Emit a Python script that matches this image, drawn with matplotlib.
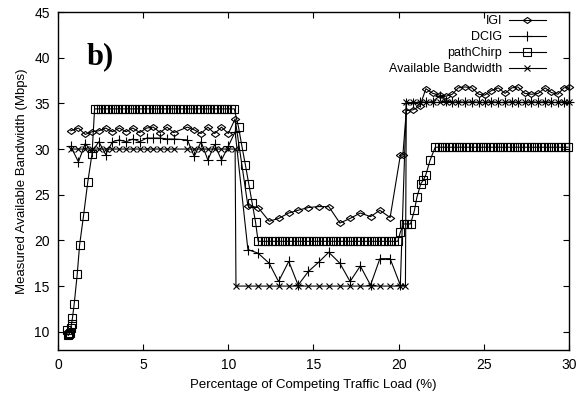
"""Measured available bandwidth vs. competing traffic load (panel b)."""

import matplotlib

matplotlib.use("Agg")
import matplotlib.pyplot as plt

plt.rcParams["font.family"] = ["Liberation Sans", "DejaVu Sans"]

# --- shared load points (%) for IGI / DCIG / available bandwidth ---------
load_phase1 = [0.75, 1.2, 1.6, 2.0, 2.4, 2.8, 3.2, 3.6, 4.0, 4.4, 4.8, 5.2,
               5.6, 6.0, 6.4, 6.8, 7.6, 8.0, 8.4, 8.8, 9.2, 9.6, 10.0, 10.4]
load_phase2 = [11.15, 11.75, 12.4, 12.95, 13.55, 14.1, 14.7, 15.3, 15.9,
               16.55, 17.15, 17.75, 18.35, 18.9, 19.5, 20.1]
load_phase3 = [20.45, 20.85, 21.25, 21.6, 22.0, 22.4, 22.8, 23.15, 23.5,
               23.9, 24.3, 24.7, 25.05, 25.45, 25.85, 26.25, 26.65, 27.0,
               27.4, 27.8, 28.2, 28.6, 28.95, 29.35, 29.7, 30.0]

# IGI (Mbps)
igi_phase1 = [32.0, 32.3, 31.6, 31.9, 32.0, 32.3, 31.9, 32.3, 31.9, 32.3,
              31.8, 32.3, 32.4, 31.8, 32.4, 31.8, 32.4, 32.1, 31.7, 32.4,
              31.7, 32.4, 31.7, 33.3]
igi_phase2 = [23.8, 23.6, 22.1, 22.4, 23.0, 23.3, 23.6, 23.7, 23.7, 21.9,
              22.4, 23.0, 22.6, 23.3, 22.5, 29.3]
igi_extra_x = [20.25]
igi_extra_y = [29.35]
igi_phase3 = [34.2, 34.3, 34.7, 36.6, 36.1, 35.9, 35.8, 36.0, 36.7, 36.8,
              36.7, 36.0, 35.9, 36.4, 36.7, 36.1, 36.7, 36.8, 36.1, 36.0,
              36.1, 36.7, 36.2, 36.0, 36.7, 36.8]

# DCIG (Mbps)
dcig_phase1 = [30.3, 28.6, 30.6, 29.7, 30.8, 29.4, 30.8, 31.0, 30.8, 31.1,
               30.8, 31.2, 31.2, 31.2, 31.1, 31.1, 31.0, 29.2, 30.8, 28.8,
               30.5, 28.8, 30.3, 31.9]
dcig_phase2 = [19.0, 18.6, 17.5, 15.5, 17.7, 15.1, 16.6, 17.6, 18.7, 17.5,
               15.5, 17.2, 15.1, 18.0, 18.0, 15.1]
dcig_phase3 = [35.0, 35.0, 35.2, 35.1, 35.2, 35.8, 35.3, 35.1, 35.2, 35.1,
               35.2, 35.1, 35.1, 35.2, 35.1, 35.1, 35.2, 35.1, 35.1, 35.2,
               35.1, 35.2, 35.1, 35.1, 35.2, 35.1]

# Available bandwidth (Mbps), a step function
avail_phase1 = [30.0, 30.0, 30.0, 30.0, 30.0, 30.0, 30.0, 30.0, 30.0, 30.0,
                30.0, 30.0, 30.0, 30.0, 30.0, 30.0, 30.0, 30.0, 30.0, 30.0,
                30.0, 30.0, 30.0, 30.0]
avail_step_down_x = [10.45]
avail_step_down_y = [15.0]
avail_phase2 = [15.0, 15.0, 15.0, 15.0, 15.0, 15.0, 15.0, 15.0, 15.0, 15.0,
                15.0, 15.0, 15.0, 15.0, 15.0, 15.0]
avail_step_up_x = [20.4]
avail_step_up_y = [15.0]
avail_phase3 = [35.1, 35.1, 35.1, 35.1, 35.1, 35.1, 35.1, 35.1, 35.1, 35.1,
                35.1, 35.1, 35.1, 35.1, 35.1, 35.1, 35.1, 35.1, 35.1, 35.1,
                35.1, 35.1, 35.1, 35.1, 35.1, 35.1]

# pathChirp (Mbps), own sample points
chirp_x = [
    0.55, 0.6, 0.65, 0.7, 0.75, 0.8, 0.85, 0.95, 1.13, 1.27, 1.5, 1.75, 2.0,
    2.15, 2.35, 2.55, 2.75, 2.95, 3.15, 3.35, 3.55, 3.75, 3.95, 4.15, 4.35,
    4.55, 4.75, 4.95, 5.15, 5.35, 5.55, 5.75, 5.95, 6.15, 6.35, 6.55, 6.75,
    6.95, 7.15, 7.35, 7.55, 7.75, 7.95, 8.15, 8.35, 8.55, 8.75, 8.95, 9.15,
    9.35, 9.55, 9.75, 9.95, 10.15, 10.35,
    10.6, 10.8, 11.0, 11.2, 11.4, 11.6,
    11.75, 11.95, 12.15, 12.35, 12.55, 12.75, 12.95, 13.15, 13.35, 13.55,
    13.75, 13.95, 14.15, 14.35, 14.55, 14.75, 14.95, 15.15, 15.35, 15.55,
    15.75, 15.95, 16.15, 16.35, 16.55, 16.75, 16.95, 17.15, 17.35, 17.55,
    17.75, 17.95, 18.15, 18.35, 18.55, 18.75, 18.95, 19.15, 19.35, 19.55,
    19.75, 19.95,
    20.1, 20.3, 20.5, 20.7, 20.93, 21.07, 21.3, 21.45, 21.6, 21.85,
    22.15, 22.35, 22.55, 22.75, 22.95, 23.15, 23.35, 23.55, 23.75, 23.95,
    24.15, 24.35, 24.55, 24.75, 24.95, 25.15, 25.35, 25.55, 25.75, 25.95,
    26.15, 26.35, 26.55, 26.75, 26.95, 27.15, 27.35, 27.55, 27.75, 27.95,
    28.15, 28.35, 28.55, 28.75, 28.95, 29.15, 29.35, 29.55, 29.75, 29.95,
]
chirp_y = [
    10.2, 9.6, 9.7, 9.9, 10.4, 10.9, 11.5, 13.0, 16.3, 19.5, 22.7, 26.4, 29.5,
    34.4, 34.4, 34.4, 34.4, 34.4, 34.4, 34.4, 34.4, 34.4, 34.4, 34.4, 34.4,
    34.4, 34.4, 34.4, 34.4, 34.4, 34.4, 34.4, 34.4, 34.4, 34.4, 34.4, 34.4,
    34.4, 34.4, 34.4, 34.4, 34.4, 34.4, 34.4, 34.4, 34.4, 34.4, 34.4, 34.4,
    34.4, 34.4, 34.4, 34.4, 34.4, 34.4,
    32.4, 30.3, 28.3, 26.2, 24.1, 22.0,
    19.9, 19.9, 19.9, 19.9, 19.9, 19.9, 19.9, 19.9, 19.9, 19.9,
    19.9, 19.9, 19.9, 19.9, 19.9, 19.9, 19.9, 19.9, 19.9, 19.9,
    19.9, 19.9, 19.9, 19.9, 19.9, 19.9, 19.9, 19.9, 19.9, 19.9,
    19.9, 19.9, 19.9, 19.9, 19.9, 19.9, 19.9, 19.9, 19.9, 19.9,
    19.9, 19.9,
    20.9, 21.8, 21.8, 21.8, 23.3, 24.7, 26.2, 26.6, 27.2, 28.8,
    30.2, 30.2, 30.2, 30.2, 30.2, 30.2, 30.2, 30.2, 30.2, 30.2,
    30.2, 30.2, 30.2, 30.2, 30.2, 30.2, 30.2, 30.2, 30.2, 30.2,
    30.2, 30.2, 30.2, 30.2, 30.2, 30.2, 30.2, 30.2, 30.2, 30.2,
    30.2, 30.2, 30.2, 30.2, 30.2, 30.2, 30.2, 30.2, 30.2, 30.2,
]

x_ticks = [0, 5, 10, 15, 20, 25, 30]
y_ticks = [10, 15, 20, 25, 30, 35, 40, 45]

# wide open diamond like gnuplot's
DIAMOND = [(-1.0, 0.0), (0.0, 0.72), (1.0, 0.0), (0.0, -0.72), (-1.0, 0.0)]


def main() -> None:
    fig = plt.figure(figsize=(5.88, 3.99), dpi=100)
    ax = fig.add_axes([0.0986, 0.1228, 0.869, 0.847])

    igi_x = load_phase1 + load_phase2 + igi_extra_x + load_phase3
    igi_y = igi_phase1 + igi_phase2 + igi_extra_y + igi_phase3
    dcig_x = load_phase1 + load_phase2 + load_phase3
    dcig_y = dcig_phase1 + dcig_phase2 + dcig_phase3
    avail_x = (load_phase1 + avail_step_down_x + load_phase2
               + avail_step_up_x + load_phase3)
    avail_y = (avail_phase1 + avail_step_down_y + avail_phase2
               + avail_step_up_y + avail_phase3)

    common = dict(color="black", linewidth=0.8, clip_on=False,
                  markeredgewidth=0.8)
    ax.plot(igi_x, igi_y, marker=DIAMOND, markersize=6, mfc="none",
            label="IGI", **common)
    ax.plot(dcig_x, dcig_y, marker="+", markersize=7, label="DCIG",
            **common)
    ax.plot(chirp_x, chirp_y, marker="s", markersize=5.5, mfc="none",
            label="pathChirp", **common)
    ax.plot(avail_x, avail_y, marker="x", markersize=4.5,
            label="Available Bandwidth", **common)

    ax.set_xlim(0, 30)
    ax.set_ylim(8, 45)
    ax.set_xticks(x_ticks)
    ax.set_yticks(y_ticks)
    ax.tick_params(direction="in", top=True, right=True, length=4,
                   width=0.8, labelsize=10, pad=6)
    for spine in ax.spines.values():
        spine.set_linewidth(1.0)

    ax.set_xlabel("Percentage of Competing Traffic Load (%)", fontsize=9.5,
                  labelpad=5)
    ax.set_ylabel("Measured Available Bandwidth (Mbps)", fontsize=9.5,
                  labelpad=4)

    ax.text(1.7, 39.3, "b)", fontsize=22, fontweight="bold",
            family=["Liberation Serif", "DejaVu Serif"])

    ax.legend(loc="upper right", bbox_to_anchor=(0.965, 1.005),
              markerfirst=False, frameon=False, fontsize=9,
              handlelength=3.0, handletextpad=0.5, labelspacing=0.32,
              borderaxespad=0.0)

    fig.savefig("out.png", dpi=100)
    plt.close(fig)


if __name__ == "__main__":
    main()
